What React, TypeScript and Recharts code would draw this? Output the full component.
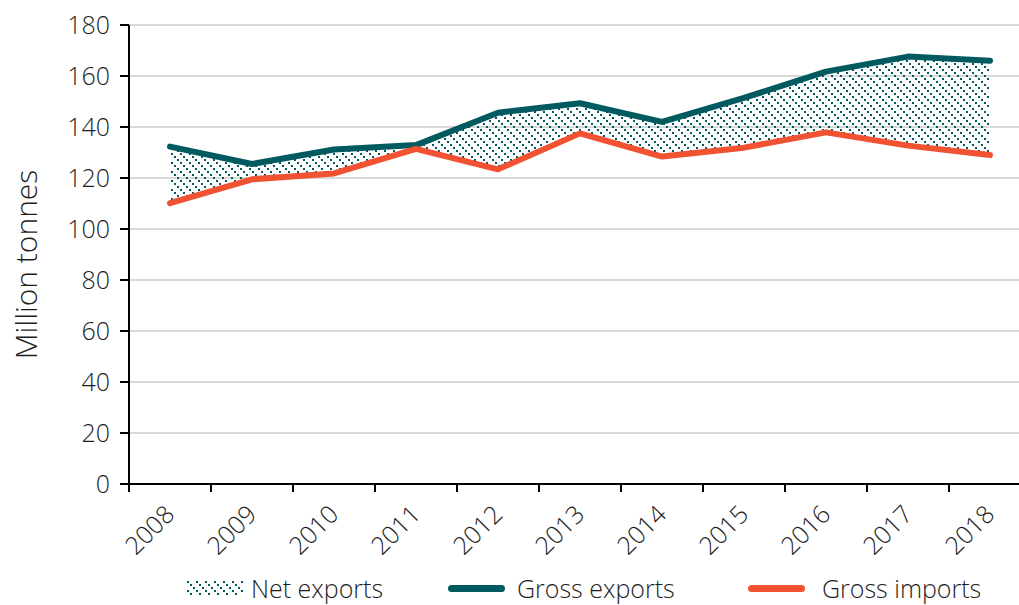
import { ComposedChart, Area, Line, XAxis, YAxis, CartesianGrid, Legend } from 'recharts';

const years = ['2008', '2009', '2010', '2011', '2012', '2013', '2014', '2015', '2016', '2017', '2018'];
const grossExports = [132.3, 125.5, 131.2, 132.9, 145.6, 149.3, 142.0, 151.4, 161.7, 167.6, 166.0];
const grossImports = [110.1, 119.5, 121.8, 131.4, 123.4, 137.5, 128.4, 131.9, 137.9, 132.7, 129.0];
const yTicks = [0, 20, 40, 60, 80, 100, 120, 140, 160, 180];

const TEAL = '#005a5f';
const ORANGE = '#f05232';
const FONT = '"Open Sans", sans-serif';
const TEXT = '#1e1e1e';

const data = years.map((year, i) => ({
  year,
  exports: grossExports[i],
  imports: grossImports[i],
  net: [grossImports[i], grossExports[i]],
}));

const XTick = (props: any) => {
  const { x, y, payload } = props;
  const half = payload?.offset || 41;
  return (
    <g>
      <line x1={x - half} y1={484} x2={x - half} y2={492} stroke="#000" strokeWidth={2} />
      <text
        transform={`translate(${x + 6},${y + 24}) rotate(-45)`}
        textAnchor="end"
        fontFamily={FONT}
        fontWeight={300}
        fontSize={25}
        fill={TEXT}
      >
        {payload.value}
      </text>
    </g>
  );
};

const YLabel = (props: any) => {
  const vb = props.viewBox || { x: 0, y: 25, width: 129, height: 459 };
  const cy = vb.y + vb.height / 2 + 10;
  return (
    <text
      transform={`translate(25,${cy}) rotate(-90)`}
      textAnchor="middle"
      dominantBaseline="central"
      fontFamily={FONT}
      fontWeight={300}
      fontSize={30}
      fill={TEXT}
    >
      Million tonnes
    </text>
  );
};

const LegendContent = () => (
  <div style={{ display: 'flex', alignItems: 'center', paddingLeft: 187, height: 34, fontFamily: FONT, fontWeight: 300, fontSize: 25, color: TEXT, whiteSpace: 'nowrap' }}>
    <div style={{ width: 261, display: 'flex', alignItems: 'center' }}>
      <svg width={57} height={14} style={{ marginRight: 7 }}>
        <rect x={0} y={0} width={57} height={14} fill="url(#hatch)" />
      </svg>
      <span>Net exports</span>
    </div>
    <div style={{ width: 300, display: 'flex', alignItems: 'center' }}>
      <div style={{ width: 57, height: 7, borderRadius: 4, background: TEAL, marginRight: 12 }} />
      <span>Gross exports</span>
    </div>
    <div style={{ display: 'flex', alignItems: 'center' }}>
      <div style={{ width: 57, height: 7, borderRadius: 4, background: ORANGE, marginRight: 17 }} />
      <span>Gross imports</span>
    </div>
  </div>
);

export default function App() {
  return (
    <div style={{ position: 'absolute', left: 0, top: 0, width: 1019, height: 605, overflow: 'hidden', background: '#fff' }}>
      <svg width={0} height={0} style={{ position: 'absolute' }}>
        <defs>
          <pattern id="hatch" width={9} height={9} patternUnits="userSpaceOnUse">
            <rect x={0} y={0} width={2} height={2} fill={TEAL} />
            <rect x={3} y={3} width={2} height={2} fill={TEAL} />
            <rect x={6} y={6} width={2} height={2} fill={TEAL} />
          </pattern>
        </defs>
      </svg>
      <ComposedChart width={1040} height={605} data={data} margin={{ top: 25, right: 9, bottom: 0, left: 0 }}>
        <CartesianGrid vertical={false} stroke="#d9d9d9" strokeWidth={2} />
        <XAxis
          dataKey="year"
          scale="band"
          height={87}
          axisLine={{ stroke: '#000', strokeWidth: 2 }}
          tickLine={false}
          tick={<XTick />}
          interval={0}
        />
        <YAxis
          width={129}
          domain={[0, 180]}
          ticks={yTicks}
          interval={0}
          axisLine={{ stroke: '#000', strokeWidth: 2 }}
          tickLine={{ stroke: '#000', strokeWidth: 2 }}
          tickSize={9}
          tickMargin={10}
          tick={{ fontFamily: FONT, fontWeight: 300, fontSize: 25, fill: TEXT }}
          label={<YLabel />}
        />
        <Legend
          verticalAlign="bottom"
          height={34}
          content={<LegendContent />}
          wrapperStyle={{ left: 0, bottom: 0, width: 1019 }}
        />
        <Area
          dataKey="net"
          name="Net exports"
          stroke="none"
          fill="url(#hatch)"
          fillOpacity={1}
          isAnimationActive={false}
          activeDot={false}
        />
        <Line
          dataKey="exports"
          name="Gross exports"
          stroke={TEAL}
          strokeWidth={6}
          strokeLinecap="round"
          strokeLinejoin="round"
          dot={false}
          activeDot={false}
          isAnimationActive={false}
        />
        <Line
          dataKey="imports"
          name="Gross imports"
          stroke={ORANGE}
          strokeWidth={6}
          strokeLinecap="round"
          strokeLinejoin="round"
          dot={false}
          activeDot={false}
          isAnimationActive={false}
        />
      </ComposedChart>
    </div>
  );
}
